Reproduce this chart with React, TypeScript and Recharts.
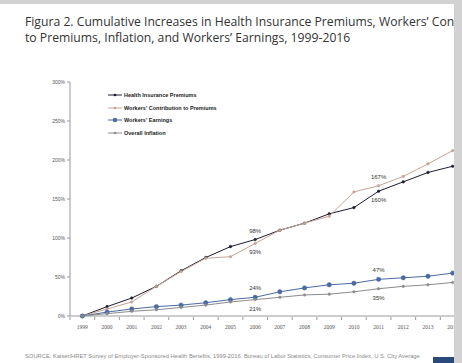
import { CartesianGrid, Legend, Line, LineChart, XAxis, YAxis } from 'recharts';

const years = [
  '1999', '2000', '2001', '2002', '2003', '2004', '2005', '2006',
  '2007', '2008', '2009', '2010', '2011', '2012', '2013', '2014',
];
const premiums = [0, 12, 23, 38, 58, 75, 89, 98, 110, 119, 131, 139, 160, 172, 184, 192];
const contributions = [0, 9, 18, 38, 57, 74, 76, 93, 110, 119, 128, 159, 167, 179, 195, 212];
const earnings = [0, 5, 9, 12, 14, 17, 21, 24, 31, 36, 40, 42, 47, 49, 51, 55];
const inflation = [0, 3, 6, 8, 11, 14, 18, 21, 24, 27, 28, 31, 35, 38, 40, 43];
const yTicks = [0, 50, 100, 150, 200, 250, 300];
const titleLines = [
  'Figura 2. Cumulative Increases in Health Insurance Premiums, Workers’ Contribution',
  'to Premiums, Inflation, and Workers’ Earnings, 1999-2016',
];

const data = years.map((year, i) => ({
  year,
  premiums: premiums[i],
  contributions: contributions[i],
  earnings: earnings[i],
  inflation: inflation[i],
}));

const series = [
  { key: 'premiums', name: 'Health Insurance Premiums', color: '#1c1c30', r: 1.3, labels: { 7: -1, 12: 1 } },
  { key: 'contributions', name: "Workers' Contribution to Premiums", color: '#c4a596', r: 1.3, labels: { 7: 1, 12: -1 } },
  { key: 'earnings', name: "Workers' Earnings", color: '#4a6aa2', r: 2.2, labels: { 7: -1, 12: -1 } },
  { key: 'inflation', name: 'Overall Inflation', color: '#8c8c8c', r: 1.3, labels: { 7: 1, 12: 1 } },
];

const W = 470;
const M = { top: 82, right: 5, left: 0, bottom: 27 };
const Y_W = 70;
const band = (W - M.left - M.right - Y_W) / years.length;

const makeLabel = (labels: { [k: number]: number }) => (props: any) => {
  const { x, y, value, index } = props;
  const dir = labels[index];
  if (!dir) return null;
  return (
    <text x={x} y={y + dir * 9 + 2} fontSize={6} fill="#333" textAnchor="middle" fontFamily="Liberation Sans">
      {value}%
    </text>
  );
};

const XTick = (props: any) => {
  const { x, y, payload } = props;
  return (
    <g>
      <line x1={x - band / 2} x2={x - band / 2} y1={y - 7} y2={y - 4} stroke="#999" />
      <text x={x} y={y + 5} fontSize={5.5} fill="#555" textAnchor="middle" fontFamily="Liberation Serif">
        {payload.value}
      </text>
    </g>
  );
};

const LegendBox = () => (
  <div style={{ fontFamily: 'Liberation Sans', fontSize: 5.5, fontWeight: 'bold', color: '#222' }}>
    {series.map((s) => (
      <div key={s.key} style={{ display: 'flex', alignItems: 'center', height: 12.6 }}>
        <svg width={16} height={6}>
          <line x1={1} x2={15} y1={3} y2={3} stroke={s.color} strokeWidth={1} />
          <circle cx={8} cy={3} r={s.r} fill={s.color} />
        </svg>
        <span style={{ marginLeft: 1 }}>{s.name}</span>
      </div>
    ))}
  </div>
);

export default function App() {
  return (
    <div style={{ position: 'absolute', left: 0, top: 0, width: 462, height: 363, overflow: 'hidden', background: '#fff' }}>
      {titleLines.map((t, i) => (
        <div
          key={i}
          style={{
            position: 'absolute', left: 25, top: 14 + i * 16, width: 429, whiteSpace: 'nowrap', overflow: 'hidden',
            fontFamily: 'Open Sans', fontSize: 12.2, lineHeight: '16px', color: '#333',
          }}
        >
          {t}
        </div>
      ))}
      <div style={{ position: 'absolute', left: 0, top: 0 }}>
        <LineChart width={W} height={363} data={data} margin={M}>
          <CartesianGrid stroke="none" />
          <XAxis
            dataKey="year"
            scale="band"
            stroke="#999"
            tickLine={false}
            tickSize={4}
            tickMargin={4}
            tick={<XTick />}
            interval={0}
            height={20}
          />
          <YAxis
            domain={[0, 300]}
            ticks={yTicks}
            width={Y_W}
            stroke="#999"
            tickSize={3}
            tick={{ fontSize: 5, fill: '#555', fontFamily: 'Liberation Sans' }}
            tickFormatter={(v: number) => `${v}%`}
          />
          <Legend
            layout="vertical"
            verticalAlign="middle"
            align="center"
            wrapperStyle={{ left: 107, top: 89, width: 200 }}
            content={<LegendBox />}
          />
          {series.map((s) => (
            <Line
              key={s.key}
              type="linear"
              dataKey={s.key}
              name={s.name}
              stroke={s.color}
              strokeWidth={1}
              dot={{ r: s.r, fill: s.color, stroke: s.color, strokeWidth: 0.5 }}
              label={makeLabel(s.labels)}
              isAnimationActive={false}
            />
          ))}
        </LineChart>
      </div>
      <div
        style={{
          position: 'absolute', left: 25, top: 353, whiteSpace: 'nowrap',
          fontFamily: 'Liberation Sans', fontSize: 5.8, color: '#8a8a8a',
        }}
      >
        SOURCE: Kaiser/HRET Survey of Employer-Sponsored Health Benefits, 1999-2016. Bureau of Labor Statistics, Consumer Price Index, U.S. City Average
      </div>
      <div style={{ position: 'absolute', left: 433, top: 357, width: 21, height: 6, background: '#2b4a7c' }} />
      <div style={{ position: 'absolute', left: 0, top: 0, width: 462, height: 4, background: '#d2d2d2' }} />
      <div style={{ position: 'absolute', left: 454, top: 0, width: 8, height: 363, background: '#d2d2d2' }} />
    </div>
  );
}
